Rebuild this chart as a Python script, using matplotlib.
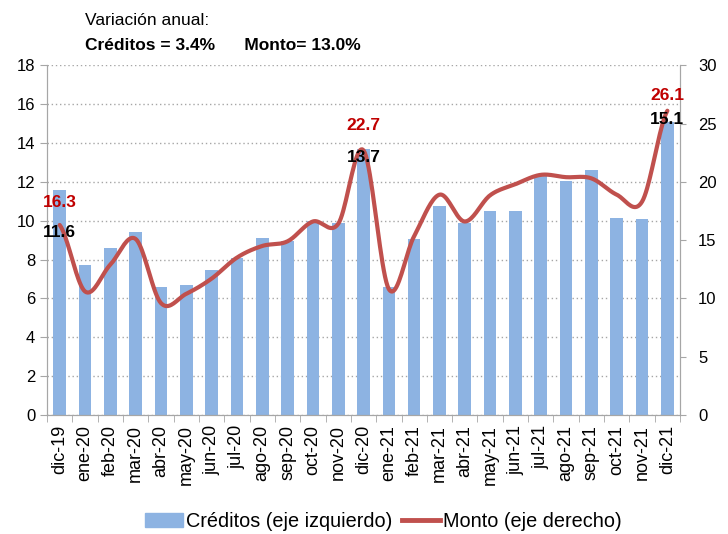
import matplotlib
matplotlib.use("Agg")

import matplotlib.pyplot as plt
import numpy as np
from matplotlib.lines import Line2D
from matplotlib.patches import Patch

plt.rcParams["font.family"] = ["Liberation Sans", "DejaVu Sans"]

months = ["dic-19", "ene-20", "feb-20", "mar-20", "abr-20", "may-20", "jun-20",
          "jul-20", "ago-20", "sep-20", "oct-20", "nov-20", "dic-20", "ene-21",
          "feb-21", "mar-21", "abr-21", "may-21", "jun-21", "jul-21", "ago-21",
          "sep-21", "oct-21", "nov-21", "dic-21"]
creditos = [11.6, 7.7, 8.6, 9.4, 6.6, 6.7, 7.45, 8.1, 9.1, 8.95, 10.0, 9.9, 13.7,
            6.6, 9.05, 10.75, 9.9, 10.5, 10.5, 12.3, 12.05, 12.6, 10.15, 10.1, 15.1]
monto = [16.3, 10.6, 12.9, 15.1, 9.6, 10.4, 11.7, 13.5, 14.5, 14.9, 16.6, 16.4, 22.7,
         10.8, 15.35, 18.9, 16.6, 18.85, 19.8, 20.6, 20.4, 20.3, 18.9, 18.3, 26.1]
labelled = {0: (10.96, 9.41), 12: (14.9, 13.27), 24: (16.46, 15.23)}  # idx -> (monto y, creditos y) in left units

BAR = "#8DB3E2"
LINE = "#C0504D"
GRID = "#A6A6A6"


def smooth(y, steps=20):
    # Catmull-Rom through the points, like Excel's smoothed line
    p = np.concatenate([[y[0]], y, [y[-1]]])
    xs, ys = [], []
    for i in range(1, len(p) - 2):
        t = np.linspace(0, 1, steps, endpoint=False)
        p0, p1, p2, p3 = p[i - 1], p[i], p[i + 1], p[i + 2]
        seg = 0.5 * (2 * p1 + (-p0 + p2) * t + (2 * p0 - 5 * p1 + 4 * p2 - p3) * t ** 2
                     + (-p0 + 3 * p1 - 3 * p2 + p3) * t ** 3)
        xs.append(i - 1 + t)
        ys.append(seg)
    xs.append([len(y) - 1])
    ys.append([y[-1]])
    return np.concatenate(xs), np.concatenate(ys)


fig = plt.figure(figsize=(7.28, 5.34), dpi=100)
ax = fig.add_axes([0.0646, 0.2228, 0.8695, 0.655])
x = np.arange(len(months))
ax.bar(x, creditos, width=0.5, color=BAR, zorder=2)
ax.set_xlim(-0.5, len(months) - 0.5)
ax.set_ylim(0, 18)
ax.set_yticks(range(0, 19, 2))
ax.yaxis.grid(True, linestyle=(0, (1, 2)), color=GRID, lw=1.0, zorder=0)
ax.set_axisbelow(True)

ax.set_xticks(x)
ax.set_xticklabels(months, rotation=90, fontsize=13)
ax.set_xticks(np.arange(-0.5, len(months)), minor=True)
ax.tick_params(axis="x", which="major", length=0, pad=7)
ax.tick_params(axis="x", which="minor", length=5, color=GRID)
ax.tick_params(axis="y", labelsize=12, length=5, color=GRID)
ax.spines["top"].set_visible(False)
for s in ("left", "right", "bottom"):
    ax.spines[s].set_color(GRID)

ax2 = ax.twinx()
ax2.set_ylim(0, 30)
ax2.set_yticks(range(0, 31, 5))
ax2.tick_params(axis="y", labelsize=12, length=4, color=GRID, pad=9)
ax2.spines["top"].set_visible(False)
for s in ("left", "right", "bottom"):
    ax2.spines[s].set_color(GRID)
sx, sy = smooth(np.array(monto))
ax2.plot(sx, sy, color=LINE, lw=3, solid_capstyle="round", zorder=3)

for i, (ym, yc) in labelled.items():
    ax2.text(i, ym, f"{monto[i]:.1f}", transform=ax.transData, color="#C00000",
             fontsize=12.5, fontweight="bold", ha="center", va="center", zorder=5)
    ax2.text(i, yc, f"{creditos[i]:.1f}", transform=ax.transData, color="black",
             fontsize=12.5, fontweight="bold", ha="center", va="center", zorder=5)

fig.text(0.117, 0.962, "Variación anual:", fontsize=12.5, va="center")
fig.text(0.117, 0.915, "Créditos = 3.4%      Monto= 13.0%", fontsize=12.5,
         fontweight="bold", va="center")

handles = [Patch(color=BAR, label="Créditos (eje izquierdo)"),
           Line2D([0], [0], color=LINE, lw=3.5, label="Monto (eje derecho)")]
fig.legend(handles=handles, loc="center", bbox_to_anchor=(0.527, 0.023), ncol=2,
           frameon=False, fontsize=14.3, handlelength=1.9, handletextpad=0.15,
           columnspacing=0.5)

fig.savefig("out.png", dpi=100)
